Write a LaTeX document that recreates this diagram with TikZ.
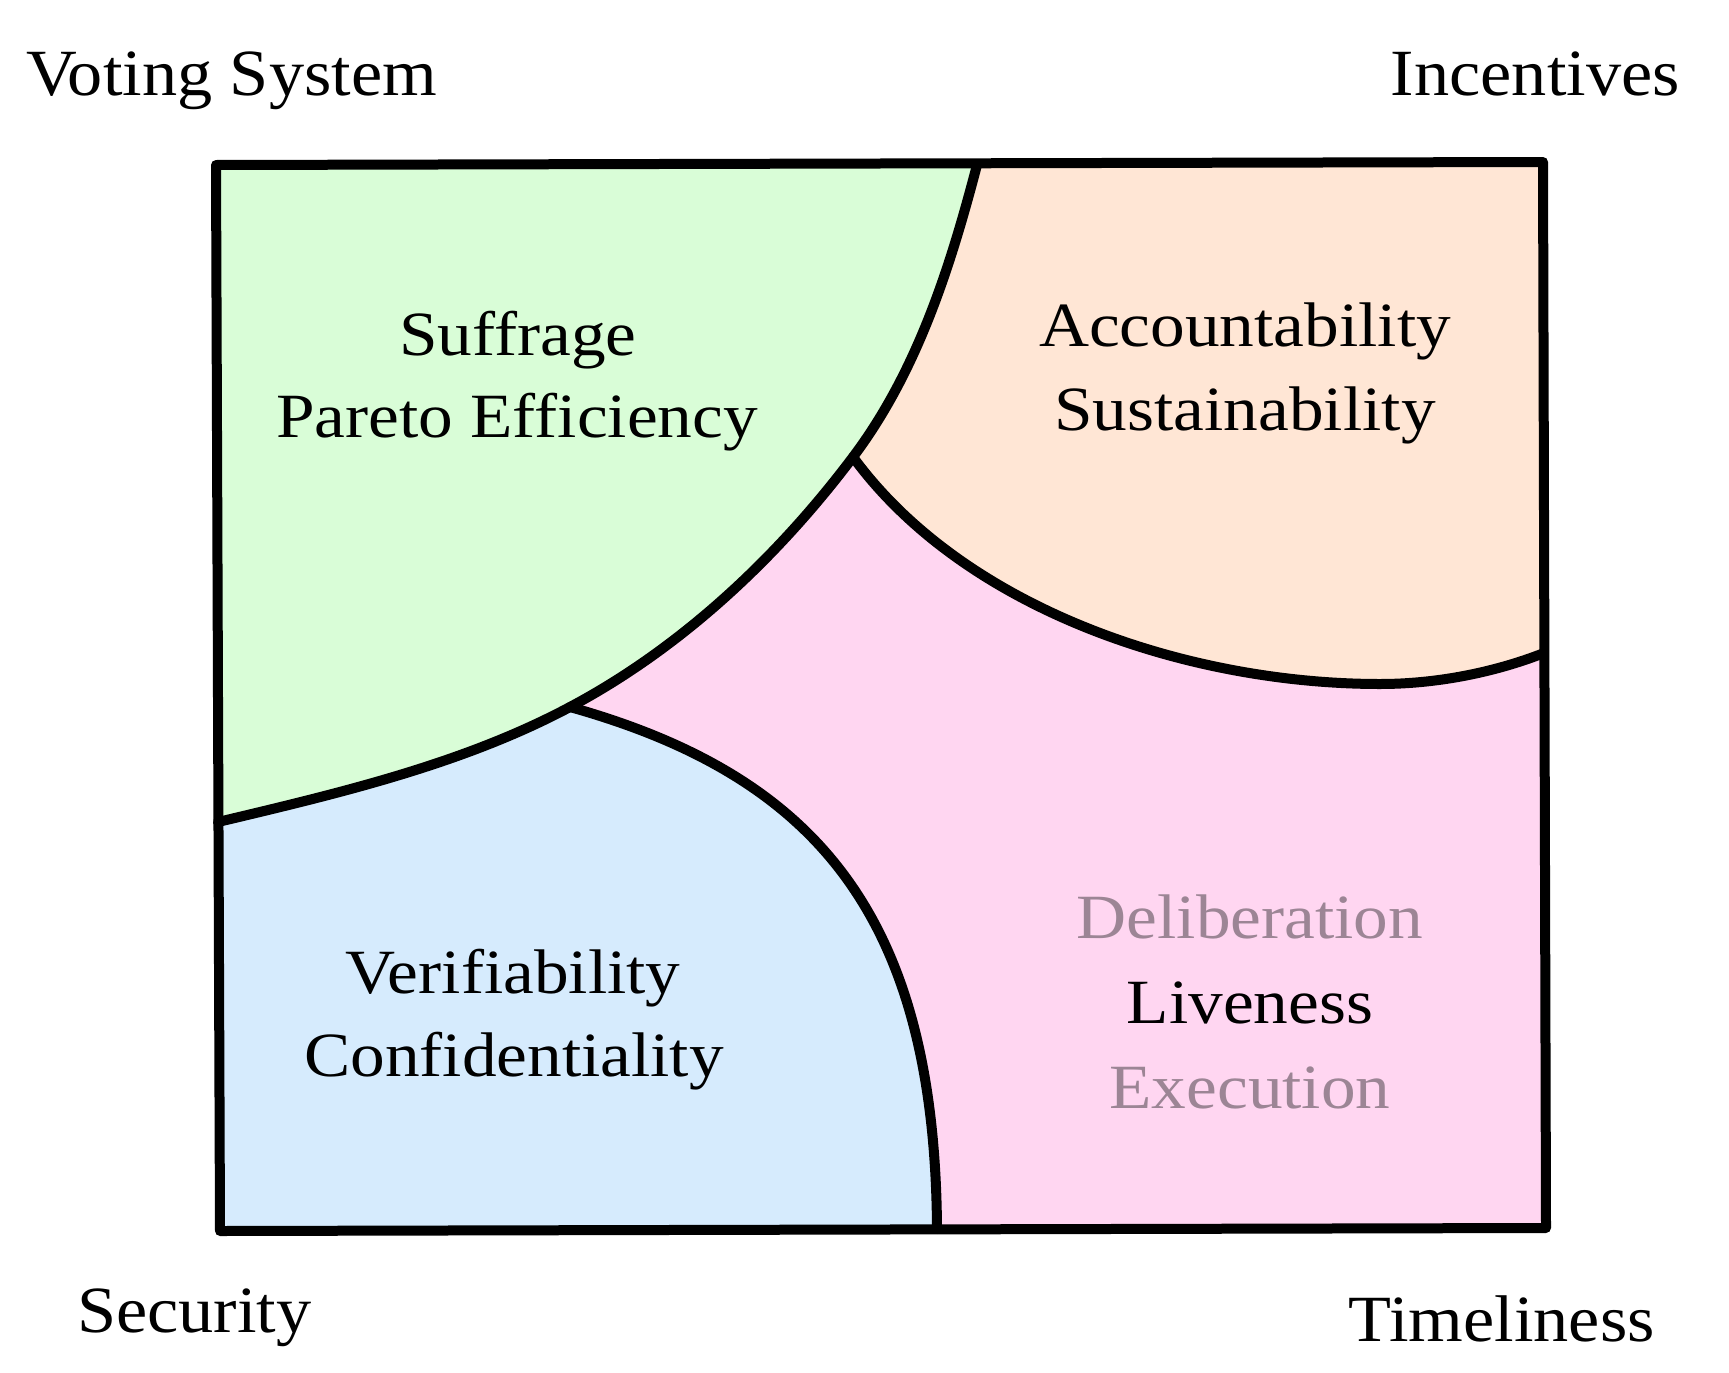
\documentclass[tikz,border=0pt]{standalone}
\usepackage{fontspec}
\setmainfont{Liberation Serif}
\newfontfamily\cornerfont[FakeStretch=1.065]{Liberation Serif}
\newfontfamily\regionfont[FakeStretch=1.1]{Liberation Serif}
\definecolor{cgreen}{HTML}{D9FDD7}
\definecolor{corange}{HTML}{FFE6D5}
\definecolor{cpink}{HTML}{FFD6F1}
\definecolor{cblue}{HTML}{D6EBFD}
\definecolor{cgray}{HTML}{9C8595}
\tikzset{
  edge/.style={line width=10pt, line cap=round, line join=round},
  biglabel/.style={inner sep=0pt, font=\cornerfont\fontsize{66}{78}\selectfont},
  innerlabel/.style={inner sep=0pt, anchor=base, font=\regionfont\fontsize{63}{76}\selectfont},
  faded/.style={innerlabel, text=cgray}
}
\begin{document}
\begin{tikzpicture}[x=1pt,y=-1pt]
\useasboundingbox (0,0) rectangle (1729,1373);
% corners of the frame
\coordinate (TL) at (216,165);
\coordinate (TR) at (1543,162);
\coordinate (BR) at (1546,1228);
\coordinate (BL) at (220,1231);
% junctions and ends
\coordinate (Gtop) at (977,165);
\coordinate (J1) at (853,457);
\coordinate (J2) at (570,707);
\coordinate (Gleft) at (218,822);
\coordinate (Olow) at (1380,684);
\coordinate (Oright) at (1544,653);
\coordinate (Bbot) at (937,1229);
% pink base
\fill[cpink] (TL) -- (TR) -- (BR) -- (BL) -- cycle;
% orange region
\fill[corange] (J1) .. controls (965,610) and (1189,684) .. (Olow)
  .. controls (1435,684) and (1493,673) .. (Oright) -- (TR) -- (700,165) -- cycle;
% blue region
\fill[cblue] (J2) .. controls (820,777) and (935,920) .. (Bbot) -- (BL) -- (220,700) -- cycle;
% green region
\fill[cgreen] (TL) -- (Gtop) .. controls (950,268) and (917,372) .. (J1)
  .. controls (777,558) and (681,648) .. (J2)
  .. controls (463,764) and (340,793) .. (Gleft) -- cycle;
% boundaries
\draw[edge] (Gtop) .. controls (950,268) and (917,372) .. (J1)
  .. controls (777,558) and (681,648) .. (J2)
  .. controls (463,764) and (340,793) .. (Gleft);
\draw[edge] (J1) .. controls (965,610) and (1189,684) .. (Olow)
  .. controls (1435,684) and (1493,673) .. (Oright);
\draw[edge] (J2) .. controls (820,777) and (935,920) .. (Bbot);
\draw[edge] (TL) -- (TR) -- (BR) -- (BL) -- cycle;
% corner labels
\node[biglabel, anchor=base west] (vs) at (26,95) {Voting System};
\node[biglabel, anchor=base east] (inc) at (1680,95) {Incentives};
\node[biglabel, anchor=base west] (sec) at (77,1332) {Security};
\node[biglabel, anchor=base east] (tim) at (1655,1341) {Timeliness};
% region labels
\node[innerlabel] (suf) at (518,355) {Suffrage};
\node[innerlabel] (par) at (517,437) {Pareto Efficiency};
\node[innerlabel] (acc) at (1245,346) {Accountability};
\node[innerlabel] (sus) at (1245,430) {Sustainability};
\node[innerlabel] (ver) at (513,993) {Verifiability};
\node[innerlabel] (con) at (514,1076) {Confidentiality};
\node[faded] (del) at (1250,938) {Deliberation};
\node[innerlabel] (liv) at (1250,1023) {Liveness};
\node[faded] (exe) at (1250,1108) {Execution};
\end{tikzpicture}
\end{document}
